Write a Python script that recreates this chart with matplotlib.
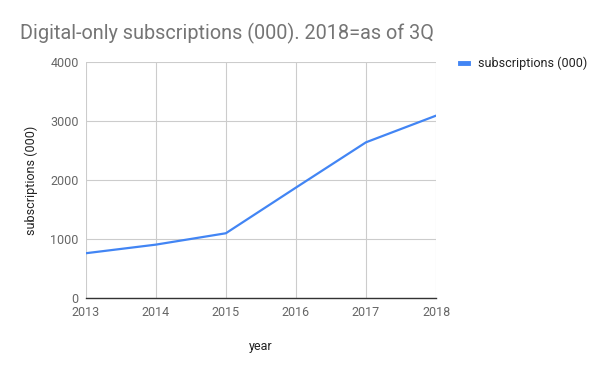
import matplotlib
matplotlib.use("Agg")
import matplotlib.pyplot as plt
from matplotlib.lines import Line2D

years = [2013, 2014, 2015, 2016, 2017, 2018]
subs = [757, 903, 1096, 1870, 2638, 3090]
yticks = [0, 1000, 2000, 3000, 4000]

plt.rcParams['font.family'] = ['Roboto', 'DejaVu Sans']

fig = plt.figure(figsize=(6, 3.71), dpi=100)
ax = fig.add_axes([0.1428, 0.197, 0.584, 0.636])

ax.plot(years, subs, color="#4285f4", lw=1.6, solid_capstyle="round")
ax.set_xlim(2013, 2018)
ax.set_ylim(0, 4000)
ax.set_xticks(years)
ax.set_yticks(yticks)
ax.grid(True, color="#cccccc", lw=0.8)
ax.set_axisbelow(True)
for s in ["top", "right", "left"]:
    ax.spines[s].set_visible(False)
ax.spines["bottom"].set_color("#333333")
ax.spines["bottom"].set_linewidth(1.0)
ax.tick_params(length=0, labelsize=9, colors="#666666")
ax.tick_params(axis="x", pad=6)
ax.tick_params(axis="y", pad=5)

ax.set_xlabel("year", fontsize=9, color="#222222", labelpad=15)
ax.set_ylabel("subscriptions (000)", fontsize=9, color="#222222", labelpad=9)

fig.text(20 / 600, 1 - 33 / 371, "Digital-only subscriptions (000). 2018=as of 3Q",
         fontsize=14.3, color="#757575", va="center", ha="left")

handle = Line2D([], [], color="#4285f4", lw=3.5)
ax.legend([handle], ["subscriptions (000)"], loc="upper left", bbox_to_anchor=(1.035, 1.07),
          frameon=False, fontsize=9, handlelength=0.7, handletextpad=0.75, labelcolor="#222222")

fig.savefig("out.png", dpi=100)
